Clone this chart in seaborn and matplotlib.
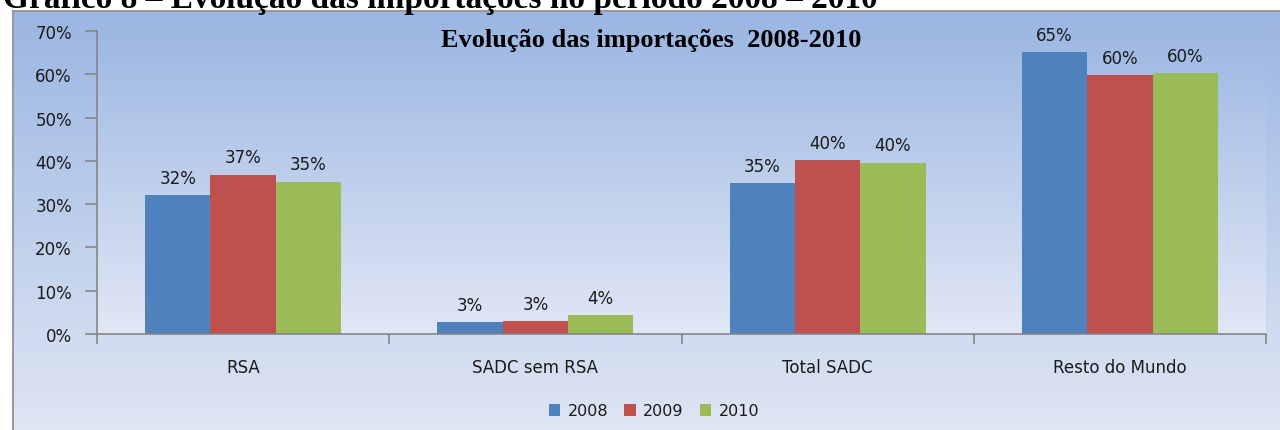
import numpy as np
import pandas as pd
import seaborn as sns
import matplotlib.pyplot as plt
from matplotlib.colors import LinearSegmentedColormap
from matplotlib.ticker import FuncFormatter

# data (percent)
categories = ["RSA", "SADC sem RSA", "Total SADC", "Resto do Mundo"]
years = ["2008", "2009", "2010"]
v2008 = [32.1, 2.8, 34.8, 65.1]
v2009 = [36.8, 2.9, 40.2, 59.8]
v2010 = [35.2, 4.4, 39.6, 60.3]
y_ticks = [0, 10, 20, 30, 40, 50, 60, 70]
colors = ["#4f81bd", "#c0504d", "#9bbb59"]

df = pd.DataFrame({
    "categoria": categories * len(years),
    "ano": np.repeat(years, len(categories)),
    "valor": v2008 + v2009 + v2010,
})

sns.set_theme(style="white")
plt.rcParams["font.family"] = ["DejaVu Sans"]
grey = "#868686"
txt = "#1a1a1a"
fs = 12

W, H = 1280, 431
fig = plt.figure(figsize=(W / 100, H / 100), dpi=100)

# chart area: gradient box with border on the left/top
bg = fig.add_axes([13 / W, 0, 1 - 13 / W, (H - 12) / H])
chart_cmap = LinearSegmentedColormap.from_list("chart", ["#9bb6e2", "#dfe6f4"])
bg.imshow(np.linspace(0, 1, 256).reshape(-1, 1), cmap=chart_cmap, aspect="auto",
          extent=[0, 1, 0, 1])
bg.set_xticks([])
bg.set_yticks([])
for s in ["right", "bottom"]:
    bg.spines[s].set_visible(False)
for s in ["left", "top"]:
    bg.spines[s].set_color("#9a9a9a")
    bg.spines[s].set_linewidth(1.5)

# plot area
ax = fig.add_axes([97 / W, (H - 335) / H, (1266 - 97) / W, (335 - 32) / H])
ax.set_facecolor("none")
plot_cmap = LinearSegmentedColormap.from_list("plot", ["#9db8e3", "#e1e7f5"])
ax.imshow(np.linspace(0, 1, 256).reshape(-1, 1), cmap=plot_cmap, aspect="auto",
          extent=[-0.5, 3.5, 0, 70], zorder=0)

sns.barplot(data=df, x="categoria", y="valor", hue="ano", palette=colors,
            saturation=1, width=0.67, linewidth=0, ax=ax, zorder=2)

for cont in ax.containers:
    ax.bar_label(cont, labels=[f"{v:.0f}%" for v in cont.datavalues],
                 padding=6, fontsize=fs, color=txt)

ax.set_xlim(-0.5, 3.5)
ax.set_ylim(0, 70)
ax.set_yticks(y_ticks)
ax.yaxis.set_major_formatter(FuncFormatter(lambda v, p: f"{v:.0f}%"))
ax.set_xticks([-0.5, 0.5, 1.5, 2.5, 3.5], minor=True)
ax.tick_params(axis="x", which="major", bottom=False, length=0, pad=17,
               labelsize=fs, labelcolor=txt)
ax.tick_params(axis="x", which="minor", bottom=True, length=7, width=1.2, color=grey)
ax.tick_params(axis="y", left=True, length=9, width=1.2, color=grey, pad=9,
               labelsize=fs, labelcolor=txt)
ax.set_xlabel("")
ax.set_ylabel("")
for s in ["top", "right"]:
    ax.spines[s].set_visible(False)
for s in ["left", "bottom"]:
    ax.spines[s].set_color(grey)
    ax.spines[s].set_linewidth(1.2)

handles, labels = ax.get_legend_handles_labels()
ax.get_legend().remove()
fig.legend(handles, labels, loc="center", bbox_to_anchor=(654 / W, 1 - 412 / H), ncol=3,
           frameon=False, fontsize=11.5, labelcolor=txt, handlelength=0.72,
           handleheight=0.72, handletextpad=0.46, columnspacing=1.0)

# titles
fig.text(651 / W, 1 - 47 / H, "Evolução das importações  2008-2010",
         family="Liberation Serif", weight="bold", fontsize=19,
         ha="center", va="baseline", color="black")
fig.text(3 / W, 1 - 8 / H, "Gráfico 8 – Evolução das importações no período 2008 – 2010",
         family="Liberation Serif", weight="bold", fontsize=24,
         ha="left", va="baseline", color="black")

fig.savefig("out.png", dpi=100)
